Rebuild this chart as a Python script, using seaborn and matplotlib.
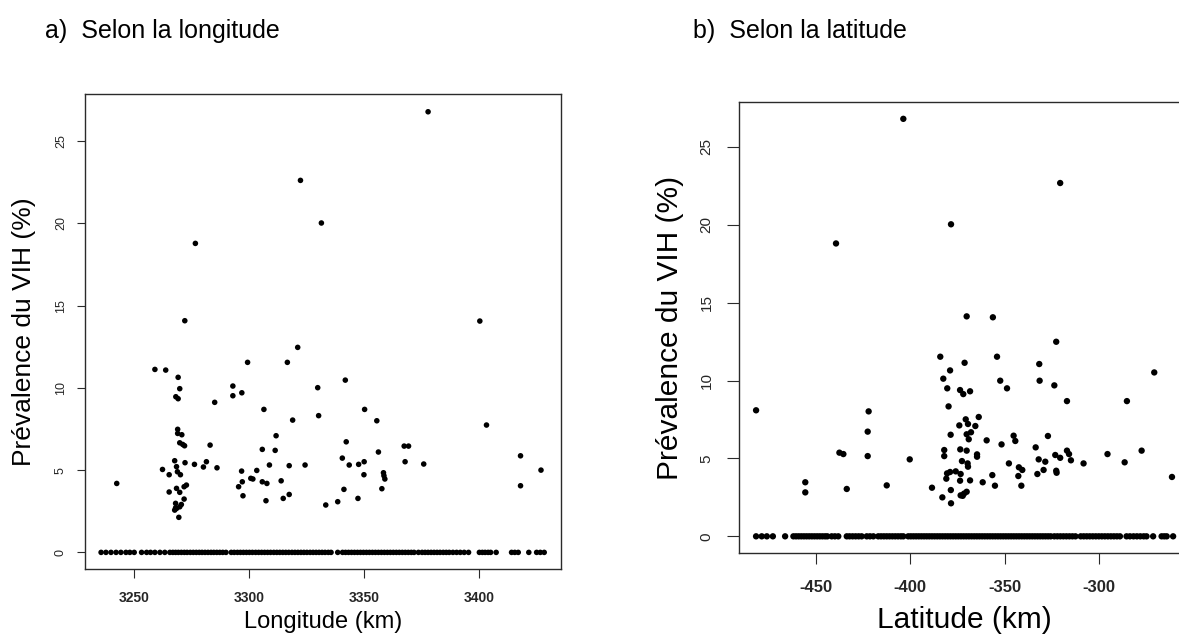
import matplotlib
matplotlib.use("Agg")
import matplotlib.pyplot as plt
import seaborn as sns
import pandas as pd

# ---------------- data ----------------
# a) longitude (km) of sites with non-zero prevalence, and their prevalence (%)
lon_pos = [3242.4, 3272.0, 3259.0, 3263.7, 3269.1, 3269.8, 3268.1, 3269.1, 3285.0, 3292.9,
           3292.9, 3296.8, 3299.3, 3316.6, 3321.1, 3306.4, 3318.9, 3329.8, 3330.2, 3341.8,
           3350.2, 3355.5, 3268.9, 3268.9, 3270.7, 3269.8, 3271.9, 3271.1, 3283.0, 3267.6,
           3272.1, 3276.2, 3280.1, 3281.4, 3286.0, 3262.3, 3265.2, 3268.4, 3268.8, 3270.1,
           3265.2, 3268.4, 3269.8, 3271.7, 3272.7, 3271.7, 3268.0, 3267.6, 3269.8, 3268.4,
           3270.5, 3269.4, 3268.0, 3296.7, 3297.0, 3295.4, 3297.3, 3300.7, 3301.6, 3303.3,
           3305.7, 3308.8, 3305.7, 3307.7, 3307.3, 3311.3, 3311.7, 3313.9, 3314.8, 3317.4,
           3317.4, 3324.3, 3333.3, 3338.5, 3340.5, 3342.2, 3341.2, 3343.5, 3347.6, 3347.3,
           3350.0, 3349.9, 3356.2, 3358.4, 3359.0, 3357.7, 3358.6, 3367.4, 3369.3, 3367.8,
           3375.9, 3377.8, 3322.3, 3331.4, 3276.6, 3400.3, 3403.2, 3418.0, 3418.0, 3426.9]
prev_lon = [4.19, 14.08, 11.12, 11.08, 10.64, 9.95, 9.46, 9.34, 9.12, 10.11,
            9.52, 9.70, 11.55, 11.55, 12.46, 8.69, 8.04, 10.01, 8.31, 10.47,
            8.69, 8.00, 7.48, 7.23, 7.15, 6.66, 6.48, 6.56, 6.52, 5.57,
            5.45, 5.35, 5.19, 5.51, 5.14, 5.04, 4.72, 5.21, 4.90, 4.72,
            3.67, 3.89, 3.65, 3.99, 4.09, 3.24, 2.98, 2.57, 2.77, 2.67,
            2.91, 2.13, 2.71, 4.94, 4.29, 3.99, 3.44, 4.50, 4.46, 4.98,
            6.26, 5.31, 4.29, 4.19, 3.14, 6.20, 7.09, 4.35, 3.28, 5.27,
            3.52, 5.31, 2.88, 3.08, 5.73, 6.72, 3.83, 5.31, 5.35, 3.28,
            5.51, 4.72, 6.10, 4.84, 4.46, 3.87, 4.66, 6.46, 6.46, 5.51,
            5.37, 26.78, 22.61, 20.02, 18.78, 14.06, 7.74, 5.87, 4.05, 5.00]
# longitudes of sites with zero prevalence
lon_zero = [3235.6, 3237.7, 3239.9, 3242.1, 3244.2, 3246.4, 3248.1, 3250.0, 3253.2, 3255.4,
            3257.1, 3259.0, 3261.2, 3263.3, 3265.5, 3266.8, 3268.0, 3269.2, 3270.5, 3271.8,
            3273.0, 3274.4, 3275.7, 3277.0, 3278.3, 3279.5, 3280.8, 3282.1, 3283.4, 3284.6,
            3285.9, 3287.2, 3288.5, 3289.9, 3292.2, 3293.5, 3294.9, 3296.2, 3297.5, 3298.8,
            3300.1, 3301.4, 3302.8, 3304.1, 3305.4, 3306.7, 3308.0, 3309.3, 3310.7, 3312.0,
            3313.3, 3314.6, 3315.9, 3317.2, 3318.6, 3319.9, 3321.2, 3322.5, 3323.8, 3325.1,
            3326.5, 3327.8, 3329.1, 3330.4, 3331.7, 3333.0, 3334.4, 3335.6, 3338.5, 3340.6,
            3341.9, 3343.2, 3344.5, 3345.8, 3347.1, 3348.4, 3349.7, 3351.0, 3352.3, 3353.6,
            3354.9, 3356.2, 3357.5, 3358.8, 3360.1, 3361.4, 3362.7, 3364.0, 3365.3, 3366.6,
            3367.9, 3369.2, 3370.5, 3371.7, 3373.6, 3375.2, 3376.5, 3377.8, 3379.1, 3380.4,
            3381.7, 3383.0, 3384.4, 3385.7, 3387.0, 3388.6, 3390.2, 3391.8, 3393.5, 3395.4,
            3400.1, 3401.4, 3402.6, 3403.9, 3405.0, 3407.4, 3414.1, 3415.5, 3417.0, 3421.6,
            3425.0, 3426.6, 3428.3]

# b) latitude (km) of sites with non-zero prevalence, and their prevalence (%)
lat_pos = [-481.8, -455.7, -455.7, -437.6, -435.5, -433.7, -422.1, -422.6, -422.6, -412.5,
           -400.3, -388.5, -383.0, -378.4, -384.1, -382.5, -378.9, -380.4, -379.7, -371.2,
           -370.1, -356.2, -373.6, -371.9, -368.3, -354.0, -352.3, -348.7, -378.6, -374.0,
           -370.6, -369.4, -365.5, -363.7, -370.1, -367.8, -369.0, -359.5, -382.0, -382.0,
           -373.5, -370.1, -364.6, -364.6, -372.6, -369.6, -369.4, -380.5, -378.9, -375.9,
           -373.3, -380.9, -373.6, -368.3, -378.5, -373.3, -371.5, -370.1, -372.2, -361.6,
           -356.5, -355.1, -351.6, -347.7, -345.2, -344.3, -342.4, -340.6, -342.7, -341.1,
           -333.5, -331.9, -332.6, -329.3, -328.4, -327.0, -331.6, -331.4, -322.6, -323.6,
           -316.9, -323.1, -320.5, -322.6, -322.4, -316.9, -315.8, -314.8, -308.1, -295.4,
           -286.3, -285.1, -277.3, -270.6, -261.2, -403.7, -439.4, -378.4, -320.5]
prev_lat = [8.09, 3.47, 2.82, 5.37, 5.28, 3.04, 8.02, 6.72, 5.15, 3.27,
            4.94, 3.12, 2.50, 2.12, 11.53, 10.12, 10.65, 9.50, 8.34, 11.14,
            14.12, 14.06, 9.39, 9.13, 9.31, 11.53, 9.99, 9.50, 6.52, 7.12,
            7.51, 7.21, 7.08, 7.66, 6.55, 6.68, 6.23, 6.16, 5.54, 5.15,
            5.58, 5.50, 5.26, 5.11, 4.83, 4.68, 4.47, 4.04, 4.13, 4.17,
            4.00, 3.70, 3.57, 3.59, 2.97, 2.63, 2.74, 2.86, 2.60, 3.47,
            3.93, 3.25, 5.90, 4.68, 6.46, 6.12, 4.43, 4.26, 3.87, 3.25,
            5.71, 4.94, 4.00, 4.26, 4.79, 6.44, 11.06, 9.99, 12.49, 9.69,
            8.68, 5.22, 5.04, 4.21, 4.08, 5.50, 5.28, 4.88, 4.68, 5.28,
            4.75, 8.68, 5.50, 10.52, 3.81, 26.80, 18.80, 20.03, 22.68]
# latitudes of sites with zero prevalence
lat_zero = [-481.8, -478.8, -476.1, -472.9, -466.4, -462.0, -460.6, -459.2, -457.8, -456.4,
            -455.0, -453.6, -452.2, -450.8, -449.4, -448.0, -446.6, -445.2, -444.0, -441.7,
            -440.0, -438.2, -433.7, -432.2, -430.6, -429.0, -427.4, -425.8, -423.1, -421.4,
            -419.6, -417.0, -415.5, -414.0, -412.5, -411.0, -409.5, -408.0, -406.5, -405.0,
            -403.7, -401.1, -399.7, -398.3, -396.9, -395.5, -394.1, -392.7, -391.3, -389.9,
            -388.5, -387.1, -385.7, -384.3, -382.9, -381.5, -380.1, -378.7, -377.3, -375.9,
            -374.5, -373.1, -371.7, -370.3, -368.9, -367.5, -366.1, -364.7, -363.3, -361.9,
            -360.5, -359.1, -357.7, -356.3, -354.9, -353.5, -352.1, -350.7, -349.3, -347.9,
            -346.5, -345.1, -343.7, -342.3, -340.9, -339.5, -338.1, -336.7, -335.3, -333.9,
            -332.5, -331.1, -329.7, -328.3, -326.9, -325.5, -323.6, -322.0, -320.4, -318.8,
            -317.2, -315.6, -314.0, -312.4, -309.6, -308.0, -306.4, -304.8, -303.2, -301.6,
            -300.0, -298.4, -296.8, -295.2, -293.6, -292.0, -290.4, -288.8, -285.3, -283.5,
            -281.6, -279.8, -278.0, -276.2, -274.7, -271.2, -266.7, -265.3, -264.0, -260.6]

prev_ticks = [0, 5, 10, 15, 20, 25]
lon_ticks = [3250, 3300, 3350, 3400]
lat_ticks = [-450, -400, -350, -300]

# ---------------- drawing ----------------
sns.set_theme(style="white")
plt.rcParams['font.family'] = ['Liberation Sans', 'DejaVu Sans']
plt.rcParams['axes.unicode_minus'] = False

W, H = 1179, 637
fig = plt.figure(figsize=(W / 100, H / 100), dpi=100)


def px_axes(x0, y0, x1, y1):
    return fig.add_axes([x0 / W, 1 - y1 / H, (x1 - x0) / W, (y1 - y0) / H])


df_a = pd.DataFrame({"x": lon_pos + lon_zero,
                     "y": prev_lon + [0.0] * len(lon_zero)})
df_b = pd.DataFrame({"x": lat_pos + lat_zero,
                     "y": prev_lat + [0.0] * len(lat_zero)})

ax1 = px_axes(85, 94, 561, 569)
ax2 = px_axes(739.3, 101.7, 1189.7, 553.3)

sns.scatterplot(data=df_a, x="x", y="y", ax=ax1, color="black", s=16,
                linewidth=0, edgecolor="none", legend=False)
sns.scatterplot(data=df_b, x="x", y="y", ax=ax2, color="black", s=21,
                linewidth=0, edgecolor="none", legend=False)

ax1.set_xlim(3228.6, 3435.6)
ax1.set_ylim(-1.01, 27.86)
ax2.set_xlim(-490.7, -251.8)
ax2.set_ylim(-1.09, 27.9)

for ax in (ax1, ax2):
    for sp in ax.spines.values():
        sp.set_visible(True)
        sp.set_color("#2a2a2a")
        sp.set_linewidth(1.0)
    ax.grid(False)
    ax.set_facecolor("white")

ax1.set_xticks(lon_ticks)
ax1.set_yticks(prev_ticks)
ax2.set_xticks(lat_ticks)
ax2.set_yticks(prev_ticks)

ax1.tick_params(axis="x", bottom=True, direction="out", length=6.5, width=0.8,
                color="#2a2a2a", pad=9, labelsize=10)
ax1.tick_params(axis="y", left=True, direction="out", length=6, width=0.8,
                color="#2a2a2a", pad=7, labelsize=9)
ax2.tick_params(axis="x", bottom=True, direction="out", length=8, width=0.8,
                color="#2a2a2a", pad=11, labelsize=12)
ax2.tick_params(axis="y", left=True, direction="out", length=8.5, width=0.8,
                color="#2a2a2a", pad=10, labelsize=11)

for lab in ax1.get_xticklabels() + ax2.get_xticklabels():
    lab.set_fontweight("bold")
for lab in ax1.get_yticklabels() + ax2.get_yticklabels():
    lab.set_rotation(90)
    lab.set_va("center")

ax1.set_xlabel("Longitude (km)", fontsize=17, va="center", color="black")
ax1.xaxis.set_label_coords(0.5, -(622 - 569) / 475)
ax1.set_ylabel("Prévalence du VIH (%)", fontsize=19, va="center", color="black")
ax1.yaxis.set_label_coords(-(85 - 24) / 476, 0.5)

ax2.set_xlabel("Latitude (km)", fontsize=21.5, va="center", color="black")
ax2.xaxis.set_label_coords(0.5, -(620 - 553.3) / 451.6)
ax2.set_ylabel("Prévalence du VIH (%)", fontsize=21.5, va="center", color="black")
ax2.yaxis.set_label_coords(-(739.3 - 670) / 450.4, 0.5)

fig.text(45 / W, 1 - 31 / H, "a)  Selon la longitude", fontsize=18,
         ha="left", va="center", color="black")
fig.text(693 / W, 1 - 31 / H, "b)  Selon la latitude", fontsize=18,
         ha="left", va="center", color="black")

fig.savefig("out.png", dpi=100, facecolor="white")
